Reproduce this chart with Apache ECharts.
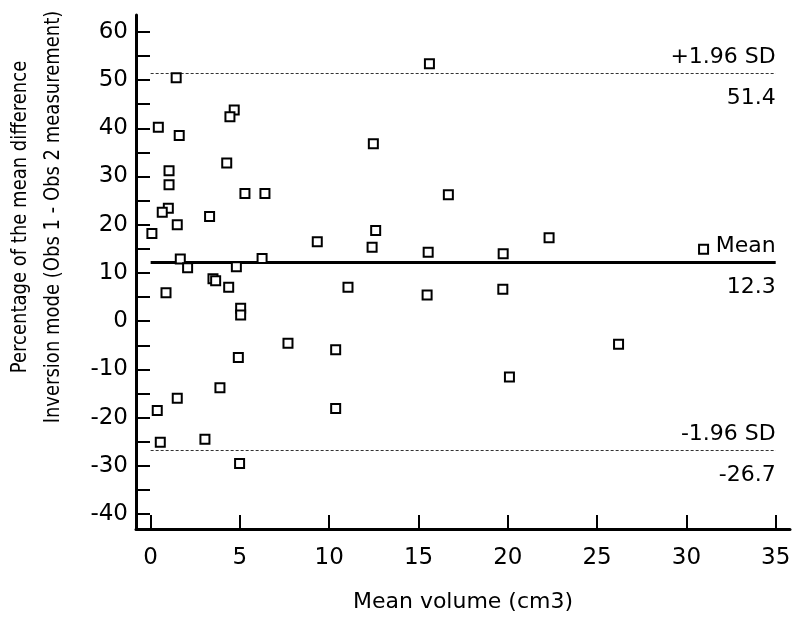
<!DOCTYPE html>
<html>
<head>
<meta charset="utf-8">
<script src="https://cdn.jsdelivr.net/npm/echarts@6/dist/echarts.min.js"></script>
<style>html,body{margin:0;padding:0;background:#fff;}#chart{width:800px;height:622px;}</style>
</head>
<body>
<div id="chart"></div>
<script>
// Mean volume (cm3)
var meanVolume = [1.43, 4.68, 4.44, 0.43, 1.60, 4.26, 1.03, 1.03, 5.28, 6.40,
  0.99, 0.65, 1.49, 3.30, 0.07, 9.33, 1.66, 2.07, 6.24, 4.80,
  3.49, 3.64, 4.37, 0.86, 11.05, 5.04, 5.04, 7.69, 10.36, 4.91,
  3.88, 1.49, 0.37, 10.36, 0.54, 3.04, 4.98, 15.61, 12.47, 16.67,
  12.60, 12.40, 15.54, 19.74, 22.31, 15.48, 19.72, 20.09, 30.96, 26.20];
// Percentage of the mean difference
var pctDiff = [50.5, 43.8, 42.4, 40.2, 38.5, 32.8, 31.2, 28.3, 26.5, 26.5,
  23.4, 22.6, 20.0, 21.7, 18.2, 16.45, 12.9, 11.1, 13.0, 11.3,
  8.8, 8.4, 7.05, 5.9, 7.05, 2.7, 1.3, -4.6, -5.9, -7.55,
  -13.8, -16.0, -18.5, -18.1, -25.1, -24.5, -29.5, 53.4, 36.8, 26.2,
  18.8, 15.35, 14.3, 14.0, 17.3, 5.45, 6.6, -11.6, 14.9, -4.8];
var limitNames = ['+1.96 SD', 'Mean', '-1.96 SD'];
var limitValues = [51.4, 12.3, -26.7];
var xTicks = [0, 5, 10, 15, 20, 25, 30, 35];
var yLabelTicks = [-40, -30, -20, -10, 0, 10, 20, 30, 40, 50, 60];
var yTicks = [-40, -35, -30, -25, -20, -15, -10, -5, 0, 5, 10, 15, 20, 25, 30, 35, 40, 45, 50, 55, 60];

var FONT = 'DejaVu Sans, sans-serif';
var chart = echarts.init(document.getElementById('chart'), null, {renderer: 'canvas'});

var points = meanVolume.map(function (x, i) { return [x, pctDiff[i]]; });

var limitLines = [];
limitValues.forEach(function (v, i) {
  var solid = limitNames[i] === 'Mean';
  var lineStyle = solid ? {color: '#000', width: 3, type: 'solid'} : {color: '#333', width: 1, type: [3, 2]};
  limitLines.push([
    {coord: [0, v], lineStyle: lineStyle,
     label: {show: true, position: 'insideEndTop', formatter: limitNames[i], distance: [0, 5]}},
    {coord: [35, v]}
  ]);
  limitLines.push([
    {coord: [0, v], lineStyle: {color: 'rgba(0,0,0,0)', width: 0},
     label: {show: true, position: 'insideEndBottom', formatter: String(v), distance: [0, 14], color: '#000'}},
    {coord: [35, v]}
  ]);
});

chart.setOption({
  animation: false,
  backgroundColor: '#fff',
  grid: {left: 136, right: 10, top: 15, bottom: 93, containLabel: false},
  xAxis: {
    type: 'value', min: -0.82, max: 35.8,
    splitLine: {show: false},
    axisLine: {onZero: false, lineStyle: {color: '#000', width: 3}},
    axisTick: {inside: true, length: 14, lineStyle: {color: '#000', width: 2}, customValues: xTicks},
    axisLabel: {customValues: xTicks, color: '#000', fontSize: 23, fontFamily: FONT, margin: 18},
    name: 'Mean volume (cm3)', nameLocation: 'middle', nameGap: 62,
    nameTextStyle: {color: '#000', fontSize: 22, fontFamily: FONT}
  },
  yAxis: {
    type: 'value', min: -43.1, max: 63.5,
    splitLine: {show: false},
    axisLine: {onZero: false, lineStyle: {color: '#000', width: 3}},
    axisTick: {inside: true, length: 14, lineStyle: {color: '#000', width: 2}, customValues: yTicks},
    axisLabel: {customValues: yLabelTicks, color: '#000', fontSize: 23, fontFamily: FONT, margin: 8}
  },
  graphic: [{
    type: 'text', x: 37, y: 217, rotation: Math.PI / 2, scaleY: 1.2,
    style: {
      text: 'Percentage of the mean difference\nInversion mode (Obs 1 - Obs 2 measurement)',
      fill: '#000', font: '18px ' + FONT, align: 'center', verticalAlign: 'middle', lineHeight: 28
    }
  }],
  series: [{
    type: 'scatter', data: [], z: 1,
    markLine: {
      silent: true, symbol: ['none', 'none'], animation: false,
      label: {color: '#000', fontSize: 22, fontFamily: FONT},
      emphasis: {disabled: true},
      data: limitLines
    }
  }, {
    type: 'scatter', data: points, z: 5,
    symbol: 'rect', symbolSize: 9,
    itemStyle: {color: '#fff', borderColor: '#000', borderWidth: 2, opacity: 1}
  }]
});
</script>
</body>
</html>
